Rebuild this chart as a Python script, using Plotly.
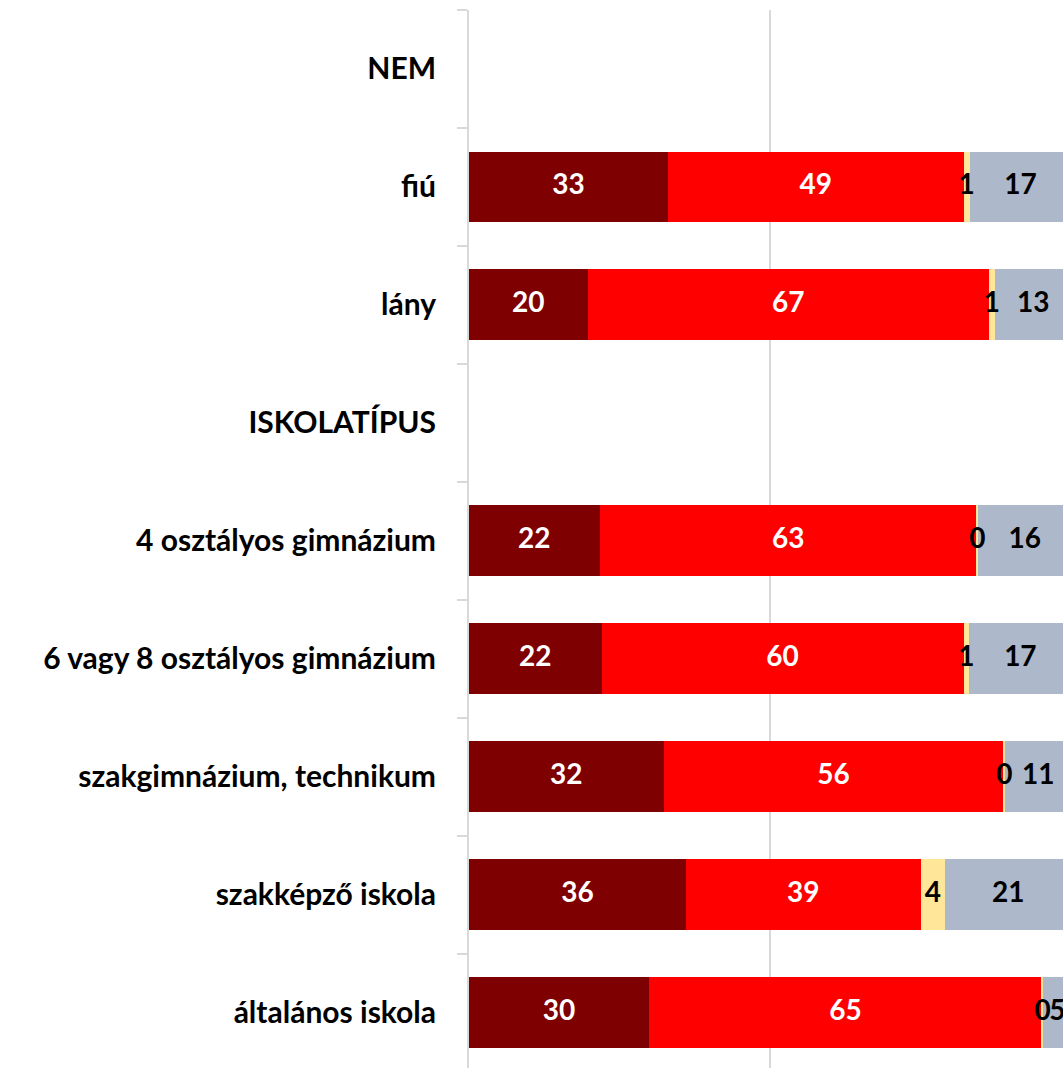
import plotly.graph_objects as go

categories = ["NEM", "fiú", "lány", "ISKOLATÍPUS", "4 osztályos gimnázium",
              "6 vagy 8 osztályos gimnázium", "szakgimnázium, technikum",
              "szakképző iskola", "általános iskola"]
s1 = [None, 33.0, 19.7, None, 21.7, 22.0, 32.3, 36.0, 29.9]
s2 = [None, 49.1, 66.6, None, 62.6, 60.1, 56.4, 39.0, 65.2]
s3 = [None, 1.0, 1.0, None, 0.2, 0.95, 0.3, 4.0, 0.2]
s4 = [None, 16.9, 12.7, None, 15.5, 16.95, 11.0, 21.0, 4.7]

series = [
    (s1, "#7F0000", "white"),
    (s2, "#FF0000", "white"),
    (s3, "#FFE699", "black"),
    (s4, "#ADB9CA", "black"),
]

FONT = "Lato"
fig = go.Figure()
for vals, col, tcol in series:
    fig.add_trace(go.Bar(
        y=categories, x=vals, orientation="h",
        marker=dict(color=col, line=dict(width=0)),
        width=0.6, showlegend=False, hoverinfo="skip",
    ))

# data labels drawn on top of all bars (centred in each segment)
base = [0.0] * len(categories)
for vals, col, tcol in series:
    xs, ys, ts = [], [], []
    for i, v in enumerate(vals):
        if v is None:
            continue
        xs.append(base[i] + v / 2)
        ys.append(categories[i])
        ts.append(f"{round(v):d}")
        base[i] += v
    fig.add_trace(go.Scatter(
        x=xs, y=ys, text=ts, mode="text", textposition="middle center",
        textfont=dict(family=FONT, size=28, color=tcol, weight="bold"),
        cliponaxis=False, showlegend=False, hoverinfo="skip",
    ))

fig.update_layout(
    barmode="stack",
    width=1063, height=1068,
    margin=dict(l=469, r=0, t=10, b=0, autoexpand=False),
    plot_bgcolor="white", paper_bgcolor="white",
    font=dict(family=FONT, size=30, color="black"),
)
fig.update_xaxes(
    range=[0, 98.6], tickvals=[0, 50, 100], showticklabels=False,
    showgrid=True, gridcolor="#D9D9D9", gridwidth=1.5, zeroline=False,
    showline=False,
)
fig.update_yaxes(
    type="category", categoryorder="array", categoryarray=categories,
    range=[8.47, -0.5],
    showline=True, linecolor="#D9D9D9", linewidth=2,
    ticks="outside", tickson="boundaries", ticklen=10, tickcolor="#D9D9D9", tickwidth=2,
    ticklabelstandoff=25,
    tickfont=dict(family=FONT, size=30, color="black", weight="bold"),
    showgrid=False,
)

fig.write_html("out.html", config={"displayModeBar": False},
               post_script="document.body.style.margin='0';document.body.style.overflow='hidden';")
